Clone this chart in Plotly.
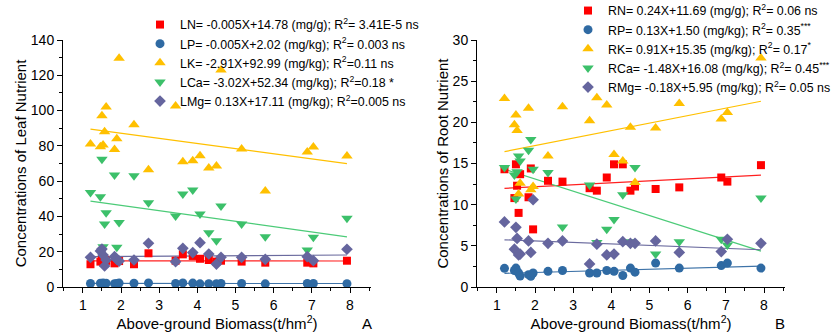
import plotly.graph_objects as go

# Sites: above-ground biomass (t/hm2)
biomass = [1.20, 1.46, 1.50, 1.53, 1.57, 1.61, 1.83, 1.89, 1.95, 2.34, 2.72, 3.43,
           3.62, 3.88, 4.07, 4.30, 4.50, 4.62, 5.16, 5.78, 6.88, 7.04, 7.92]

# Leaf nutrients
leaf_N = [12.9, 14.4, 15.3, 14.0, 15.5, 14.8, 13.4, 14.7, 14.7, 12.9, 19.1, 14.9,
          18.5, 17.6, 16.0, 15.3, 14.4, 14.9, 14.4, 13.8, 13.8, 13.4, 14.9]
leaf_P = [2.0, 2.1, 1.9, 2.2, 2.0, 2.1, 1.9, 2.0, 2.2, 2.1, 2.3, 2.0,
          2.3, 2.2, 1.8, 1.9, 1.9, 2.0, 2.0, 1.8, 2.0, 2.0, 1.9]
leaf_K = [81.0, 79.5, 97.0, 80.5, 88.0, 102.0, 78.0, 84.0, 129.6, 92.0, 66.5, 102.6,
          71.0, 71.5, 74.4, 67.5, 68.6, 123.0, 78.2, 54.4, 76.5, 79.4, 74.3]
leaf_Ca = [53.5, 51.2, 72.4, 22.8, 35.7, 42.1, 63.5, 22.5, 36.5, 63.0, 47.8, 40.2,
           52.7, 55.0, 41.4, 30.8, 26.2, 45.9, 35.7, 28.5, 21.0, 28.2, 38.9]
leaf_Mg = [16.8, 20.4, 21.5, 18.1, 11.9, 15.3, 17.2, 15.7, 14.7, 15.3, 24.8, 14.3,
           21.9, 19.5, 25.1, 18.7, 13.0, 16.8, 16.8, 15.7, 17.2, 14.9, 21.4]

# Root nutrients
root_N = [14.3, 10.8, 14.9, 12.3, 9.0, 13.7, 10.9, 14.4, 7.0, 12.9, 12.8, 12.0,
          11.7, 13.3, 14.9, 14.9, 11.7, 12.2, 11.9, 12.1, 13.3, 12.8, 14.8]
root_P = [2.27, 2.0, 2.3, 1.9, 1.7, 1.34, 1.5, 1.3, 1.7, 1.9, 2.0, 1.7,
          1.7, 2.0, 1.9, 1.4, 2.3, 1.8, 2.9, 2.3, 2.6, 2.9, 2.3]
root_K = [22.9, 19.7, 20.9, 19.0, 11.3, 12.6, 21.7, 11.8, 12.2, 15.9, 21.9, 20.2,
          23.0, 22.1, 16.1, 15.3, 19.4, 12.7, 19.3, 22.3, 20.4, 21.2, 27.8]
root_Ca = [14.5, 13.6, 10.7, 14.0, 15.9, 15.3, 16.6, 17.9, 14.3, 13.9, 7.3, 12.4,
           5.4, 7.0, 8.2, 11.2, 5.5, 14.5, 4.0, 5.5, 5.8, 5.1, 10.8]
root_Mg = [7.9, 4.6, 7.25, 5.9, 3.9, 4.0, 5.6, 4.2, 10.6, 5.3, 5.6, 2.8,
           5.2, 3.9, 4.0, 5.5, 5.3, 5.3, 5.6, 4.2, 4.3, 5.8, 5.3]

# Regression coefficients (slope, intercept)
leaf_slopes = [-0.005, -0.005, -2.91, -3.02, 0.13]
leaf_intercepts = [14.78, 2.02, 92.99, 52.34, 17.11]
root_slopes = [0.24, 0.13, 0.91, -1.48, -0.18]
root_intercepts = [11.69, 1.50, 15.35, 16.08, 5.95]

leaf_labels = [
    "LN= -0.005X+14.78 (mg/g); R<sup>2</sup>= 3.41E-5 ns",
    "LP= -0.005X+2.02 (mg/kg); R<sup>2</sup>= 0.003 ns",
    "LK= -2.91X+92.99 (mg/kg); R<sup>2</sup>=0.11 ns",
    "LCa= -3.02X+52.34 (mg/kg); R<sup>2</sup>=0.18 *",
    "LMg= 0.13X+17.11 (mg/kg); R<sup>2</sup>=0.005 ns",
]
root_labels = [
    "RN= 0.24X+11.69 (mg/g); R<sup>2</sup>= 0.06 ns",
    "RP= 0.13X+1.50 (mg/kg); R<sup>2</sup>= 0.35<sup>***</sup>",
    "RK= 0.91X+15.35 (mg/kg); R<sup>2</sup>= 0.17<sup>*</sup>",
    "RCa= -1.48X+16.08 (mg/kg); R<sup>2</sup>= 0.45<sup>***</sup>",
    "RMg= -0.18X+5.95 (mg/kg); R<sup>2</sup>= 0.05 ns",
]

colors = ["#FF0000", "#2F6AA3", "#FFC000", "#3CC06A", "#65659E"]
line_colors = ["#FF2020", "#3E73A8", "#FFC000", "#4CCB78", "#6A6A9E"]
symbols = ["square", "circle", "triangle-up", "triangle-down", "diamond"]
sizes = [8, 9, 10, 10, 9]

FONT = "Liberation Sans, Arial, sans-serif"

fig = go.Figure()

leaf_series = [leaf_N, leaf_P, leaf_K, leaf_Ca, leaf_Mg]
root_series = [root_N, root_P, root_K, root_Ca, root_Mg]

xmin, xmax = min(biomass), max(biomass)

for panel, (series, slopes, ints, labels, xa, ya, leg) in enumerate([
        (leaf_series, leaf_slopes, leaf_intercepts, leaf_labels, "x", "y", "legend"),
        (root_series, root_slopes, root_intercepts, root_labels, "x2", "y2", "legend2")]):
    # fit lines
    for i in range(5):
        fig.add_trace(go.Scatter(
            x=[xmin, xmax],
            y=[slopes[i] * xmin + ints[i], slopes[i] * xmax + ints[i]],
            mode="lines", line=dict(color=line_colors[i], width=1.2),
            showlegend=False, xaxis=xa, yaxis=ya, hoverinfo="skip"))
    for i in range(5):
        fig.add_trace(go.Scatter(
            x=biomass, y=series[i], mode="markers", name=labels[i],
            marker=dict(symbol=symbols[i], size=sizes[i], color=colors[i],
                        line=dict(width=0)),
            xaxis=xa, yaxis=ya, legend=leg))

axis_common = dict(
    showline=True, linecolor="black", linewidth=1, mirror=False,
    ticks="outside", ticklen=5, tickwidth=1, tickcolor="black",
    showgrid=False, zeroline=False, automargin=False,
    tickfont=dict(family=FONT, size=14, color="black"),
)
xcommon = dict(axis_common, range=[0.48, 8.55], tick0=1, dtick=1,
               minor=dict(dtick=0.5, ticks="outside", ticklen=3, tickcolor="black"),
               title=dict(text="Above-ground Biomass(t/hm<sup>2</sup>)",
                          font=dict(family=FONT, size=15, color="black"), standoff=3))

fig.update_layout(
    template="none",
    width=836, height=335,
    margin=dict(l=0, r=0, t=0, b=0, autoexpand=False),
    paper_bgcolor="white", plot_bgcolor="white",
    font=dict(family=FONT, color="black"),
    xaxis=dict(xcommon, domain=[63 / 836, 371 / 836], anchor="y"),
    xaxis2=dict(xcommon, domain=[477 / 836, 785 / 836], anchor="y2"),
    yaxis=dict(axis_common, range=[0, 140], dtick=20, domain=[48 / 335, 295 / 335],
               anchor="x",
               minor=dict(dtick=10, ticks="outside", ticklen=3, tickcolor="black"),
               title=dict(text="Concentrations of Leaf Nutrient",
                          font=dict(family=FONT, size=15, color="black"), standoff=0)),
    yaxis2=dict(axis_common, range=[0, 30], dtick=5, domain=[48 / 335, 295 / 335],
                anchor="x2",
                minor=dict(dtick=2.5, ticks="outside", ticklen=3, tickcolor="black"),
                title=dict(text="Concentrations of Root Nutrient",
                           font=dict(family=FONT, size=15, color="black"), standoff=0)),
    legend=dict(x=140 / 836, y=1 - 10 / 335, xanchor="left", yanchor="top",
                bgcolor="rgba(0,0,0,0)", font=dict(family=FONT, size=12.4, color="black"),
                tracegroupgap=0, itemwidth=30),
    legend2=dict(x=568 / 836, y=1 + 4 / 335, xanchor="left", yanchor="top",
                 bgcolor="rgba(0,0,0,0)", font=dict(family=FONT, size=12.4, color="black"),
                 tracegroupgap=0, itemwidth=30),
    annotations=[
        dict(text="A", x=367 / 836, y=1 - 323 / 335, xref="paper", yref="paper",
             xanchor="center", yanchor="middle",
             showarrow=False, font=dict(family=FONT, size=15, color="black")),
        dict(text="B", x=780 / 836, y=1 - 323 / 335, xref="paper", yref="paper",
             xanchor="center", yanchor="middle",
             showarrow=False, font=dict(family=FONT, size=15, color="black")),
    ],
)

fig.write_html("out.html")
